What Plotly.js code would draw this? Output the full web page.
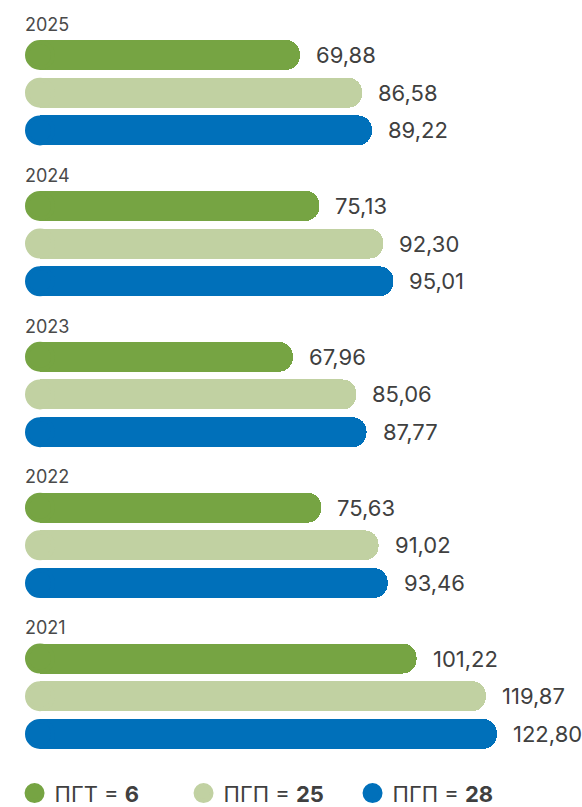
<!DOCTYPE html>
<html>
<head>
<meta charset="utf-8">
<script src="https://cdn.plot.ly/plotly-3.0.1.min.js"></script>
<style>
  html, body { margin: 0; padding: 0; background: #ffffff; }
  #chart { width: 582px; height: 807px; }
</style>
</head>
<body>
<div id="chart"></div>
<script>
// Years, top to bottom
const years = ['2025', '2024', '2023', '2022', '2021'];

// Values per series, same order as years
const pgt6  = [69.88, 75.13, 67.96, 75.63, 101.22];
const pgp25 = [86.58, 92.30, 85.06, 91.02, 119.87];
const pgp28 = [89.22, 95.01, 87.77, 93.46, 122.80];

// Legend labels
const seriesNames = ['ПГТ = <b>6</b>', 'ПГП = <b>25</b>', 'ПГП = <b>28</b>'];
const seriesValues = [pgt6, pgp25, pgp28];
const seriesColors = ['#76a443', '#c1d1a2', '#0070ba'];

const textColor = '#404040';
const font = 'Inter, "Noto Sans", sans-serif';

// Each year takes four rows: one for its label, then three bars
const rowOf = (g, s) => g * 4 + 1 + s;
const labelRow = g => g * 4;

const fmt = v => v.toFixed(2).replace('.', ',');

const traces = [];
const annotations = [];

seriesValues.forEach((vals, s) => {
  const rows = years.map((_, g) => rowOf(g, s));
  // Bar body with a rounded far end
  traces.push({
    type: 'bar',
    orientation: 'h',
    x: vals,
    y: rows,
    width: 0.795,
    marker: { color: seriesColors[s], line: { width: 0 }, cornerradius: '50%' },
    showlegend: false,
    hoverinfo: 'skip'
  });
  // Round cap at the base of each bar (30px across incl. outline);
  // also serves as the legend entry
  traces.push({
    type: 'scatter',
    mode: 'markers',
    x: vals.map(() => 0),
    y: rows,
    name: seriesNames[s],
    marker: { color: seriesColors[s], size: 26, line: { width: 4, color: seriesColors[s] } },
    showlegend: true,
    hoverinfo: 'skip'
  });
  // Value labels to the right of the bars
  vals.forEach((v, g) => {
    annotations.push({
      x: v, y: rowOf(g, s), xref: 'x', yref: 'y',
      text: fmt(v), showarrow: false,
      xanchor: 'left', yanchor: 'middle', xshift: 14,
      font: { family: font, size: 22, color: textColor }
    });
  });
});

// Year headings above each group
years.forEach((yr, g) => {
  annotations.push({
    x: 0, y: labelRow(g), xref: 'x', yref: 'y',
    text: yr, showarrow: false,
    xanchor: 'left', yanchor: 'middle', xshift: -17, yshift: -7,
    font: { family: font, size: 18, color: '#4a4a4a' }
  });
});

const layout = {
  width: 582,
  height: 807,
  margin: { l: 0, r: 0, t: 0, b: 0, pad: 0, autoexpand: false },
  paper_bgcolor: '#ffffff',
  plot_bgcolor: '#ffffff',
  bargap: 0,
  barmode: 'overlay',
  showlegend: true,
  legend: {
    orientation: 'h',
    x: 0.025, xanchor: 'left',
    y: 0.017, yanchor: 'middle',
    font: { family: font, size: 22, color: textColor },
    itemsizing: 'trace',
    entrywidth: 124,
    traceorder: 'normal',
    bgcolor: 'rgba(0,0,0,0)'
  },
  xaxis: {
    range: [-40 / 3.72, (582 - 40) / 3.72],
    visible: false, fixedrange: true
  },
  yaxis: {
    range: [1 + (807 - 55) / 37.72, 1 - 55 / 37.72],
    visible: false, fixedrange: true
  },
  annotations: annotations,
  hovermode: false
};

Plotly.newPlot('chart', traces, layout, { staticPlot: true, displayModeBar: false });
</script>
</body>
</html>
